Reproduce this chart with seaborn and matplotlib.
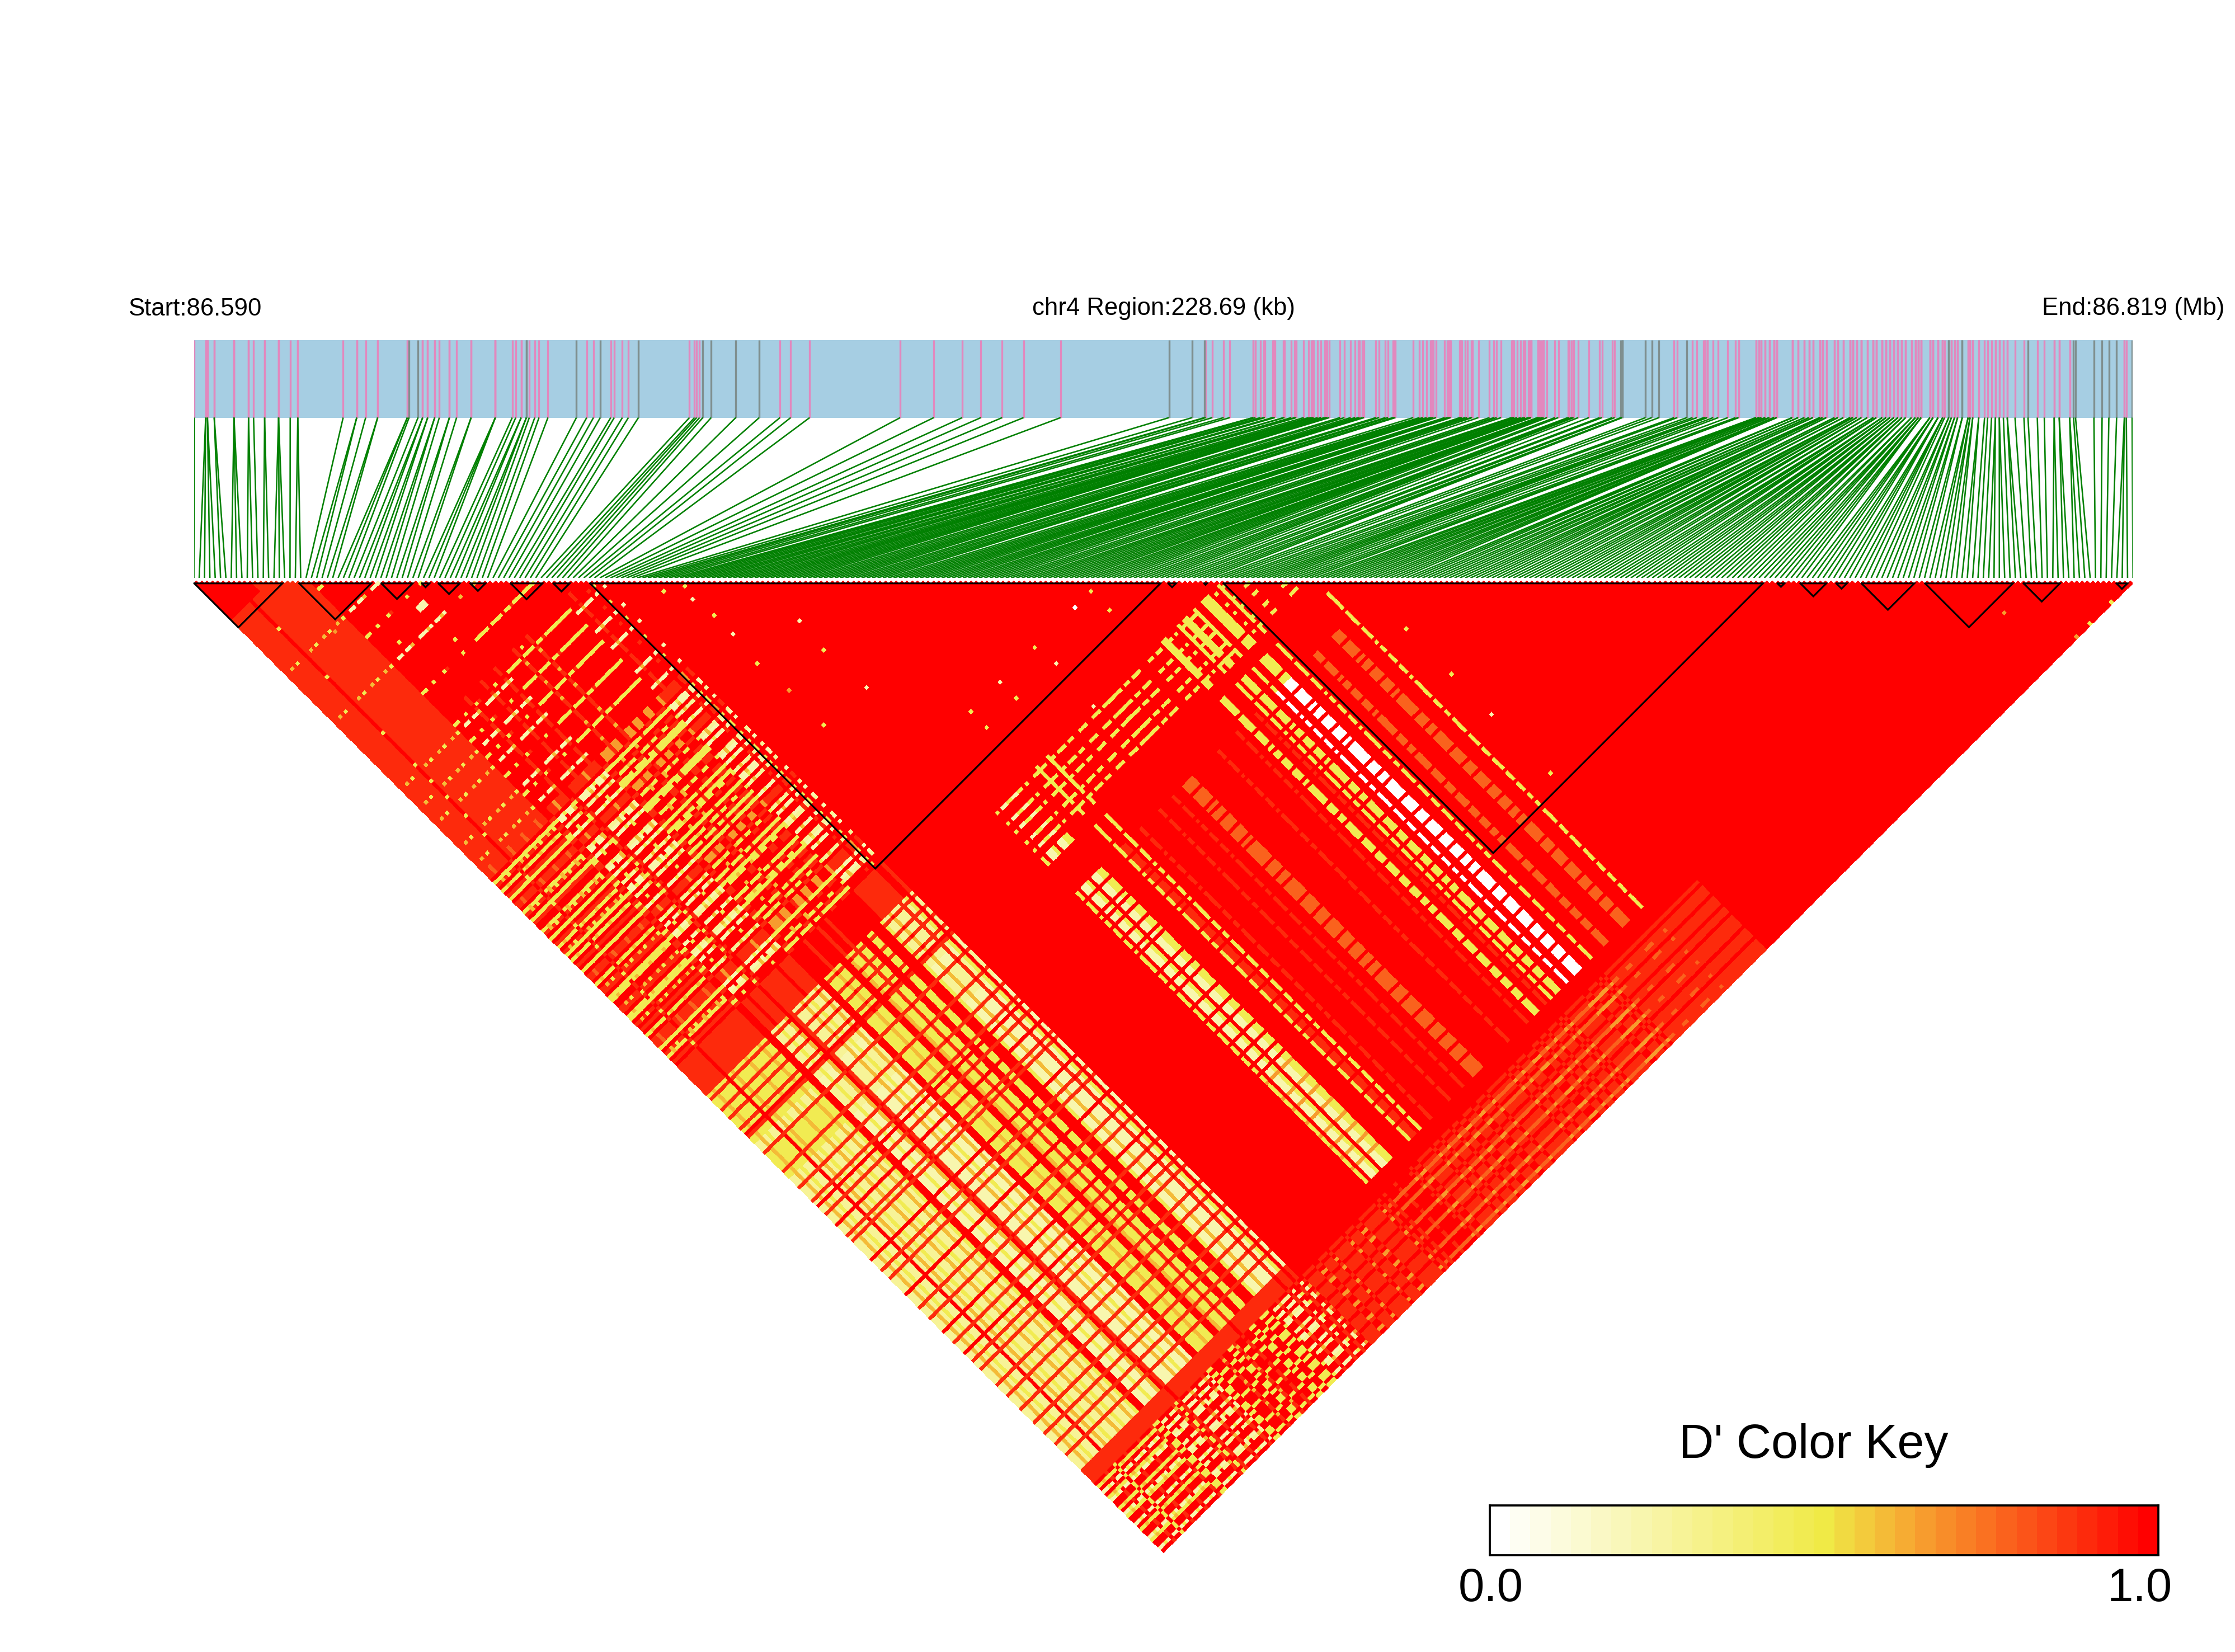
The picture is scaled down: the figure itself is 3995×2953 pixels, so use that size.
import numpy as np
import matplotlib
matplotlib.use("Agg")
import matplotlib.pyplot as plt
from matplotlib.colors import LinearSegmentedColormap
from matplotlib.transforms import Affine2D
import seaborn as sns

sns.set_theme(style="white")
plt.rcParams["font.family"] = ["Liberation Sans", "DejaVu Sans"]

# SNP positions along the region, per mille of 228.69 kb (repeats = SNPs too close to separate)
snp_left = [0.2, 6.1, 6.1, 7, 7, 10.5, 10.5, 20.7, 20.7, 20.7, 28.2, 28.2, 30.8, 36.5, 36.5, 43.7, 43.7, 43.7,
            49.7, 53.6, 53.6, 77, 84, 84, 88.6, 94.8, 94.8, 110.1, 110.1, 111, 115.6, 118, 118, 120.6, 120.6,
            124.2, 124.2, 126.6, 131.8, 131.8, 135.5, 143, 143, 155.5, 155.5, 155.5, 164.2, 166, 168.8, 168.8,
            171.5, 171.5, 173, 175.8, 178, 182.6, 197.3, 202.6, 206.1, 209.6, 215, 216.8, 221, 224.1, 229.3]
snp_mid = [255.6, 258.2, 259.3, 260.8, 262.5, 266.8, 279.5, 291.6, 302.3, 307.8, 317.6, 364.3, 381.6, 396.3,
           405.9, 416.9, 427.9, 447.0, 502.9]
snp_core1 = [514.9, 521.2, 521.9, 525.3, 531.1, 534.3, 546.2, 546.4, 547.5, 550.1, 551.9, 552.4, 556.3, 556.9,
             557.5, 562, 562.5, 566, 567.8, 568.6, 572.4, 574.9, 576.2, 576.9, 577.5, 579.6, 581.3, 583.1,
             583.9, 584.5, 585.6, 591.1, 593.4, 596.6, 598.9, 600.6, 601.2, 602.7, 603.5, 609.6, 611.3, 614.5,
             615.9, 618.4, 619, 619.7, 628.9, 632.1, 633.8, 635.8, 637.7, 638.2, 638.8, 639.3, 640.7, 645.1,
             646.5, 647.1, 647.7, 648.2]
snp_core2 = [652.9, 653.4, 653.9, 655.6, 656.7, 658.7, 659.3, 662.5, 668.2, 670.5, 671.9, 674.2, 679.5, 680.2,
             680.9, 682.4, 684.3, 685.8, 686.5, 688.2, 688.9, 689.7, 689.7, 693.1, 693.1, 693.8, 694.4, 695.2,
             696.1, 696.1, 697.9, 701.9, 703.7, 708.6, 709.3, 710.6, 711.5, 711.5, 714, 719.5, 725, 726.2,
             731.5, 732.8, 736, 736.6, 736.6, 748.7, 751.9, 755.6, 763.4, 765.1, 770, 772.9, 775.2, 778.7, 779.5,
             779.5, 780.5, 780.5, 783.6, 786.2, 791.1, 795.1, 796.6, 796.6]
snp_core3 = [805.6, 807.2, 808.4, 810.4, 812.5, 814.9, 816.3, 824.4, 827.4, 830.6, 833, 835, 838.5, 839.9, 841.9,
             846.1, 847.9, 850.7, 854.2, 855.6, 857.6, 860, 863, 866.1, 867.7, 870.7, 872.7, 874.7, 876.7, 878.8,
             880.8, 882.8, 885.8, 887.8, 889.4, 890.8]
snp_core3_count = [2, 2, 2, 2, 3, 3, 3, 3, 2, 2, 2, 2, 3, 3, 2, 2, 2, 2, 3, 3, 2, 3, 2, 3, 3, 3, 3, 3, 3, 3,
                   3, 2, 2, 3, 3, 3]
snp_right = [895.3, 895.3, 895.3, 896.9, 896.9, 896.9, 899.5, 899.5, 899.5, 901.9, 901.9, 901.9, 902.9, 905, 905,
             906.4, 906.4, 908, 908, 909.6, 909.6, 912, 912, 915, 915, 916, 916, 917.4, 917.4, 920.5, 920.5,
             923.5, 925.1, 927.1, 929.1, 929.1, 931.1, 931.1, 933.2, 935.2, 935.2, 939.2, 943.8, 945.9, 950.7,
             954.3, 959.4, 959.4, 962, 962, 967.4, 967.4, 969.4, 970.4, 979.9, 984.1, 987.6, 991.6, 995.6, 995.6,
             996.6, 999.6]
snp_gray = [111, 115.6, 171.5, 197.3, 209.6, 229.3, 262.5, 266.8, 279.5, 291.6, 502.9, 514.9, 521.2, 736, 736.6,
            748.7, 751.9, 755.6, 770, 905, 912, 945.9, 969.4, 970.4, 979.9, 984.1, 987.6, 991.6, 999.6]

# LD blocks (first and last SNP as fraction of the SNP list)
block_start = [0.0002, .0543, .0967, .1175, .1261, .1426, .1634, .1854, .2043, .5025, .521, .531, .8167, .8285,
               .847, .860, .8928, .9436, .9915]
block_end = [.0457, .0915, .1128, .1215, .1371, .1504, .1798, .1938, .4985, .5065, .5225, .8092, .8203, .8419,
             .8525, .8873, .9381, .9624, .9972]

# D' levels by digit
level_values = {"0": 0.0, "1": .22, "2": .30, "3": .46, "4": .58, "5": .66, "6": .76, "7": .88, "8": .94, "9": 1.0}

# D' pattern: row group of the left SNP against column group of the right SNP
col_groups = "kmnpqcgbhroefxyzstda"
pattern = {
    "Z": "7739377239727931" + "7772",
    "J": "7749377449747943" + "7464",
    "K": "7739377339737739" + "7373",
    "A": "9929177129717921" + "9171",
    "Y": "9939379339737993" + "3953",
    "G": "9749397449747749" + "9474",
    "R": "9997399999797399" + "3999",
    "T": "9979777779979797" + "7997",
    "I": "9999999999999797" + "9999",
    "M": "9999939999999796" + "9999",
    "Q": "9999999999999975" + "9999",
    "P": "9999939799979796" + "9999",
    "U": "9999939699969796" + "9999",
    "N": "9999939399935996" + "9993",
    "V": "9999919199915996" + "9991",
    "H": "9999939339939796" + "9999",
    "W": "9999939039909795" + "9999",
    "C": "9999999999999797" + "9999",
    "B": "9999999999999999" + "9999",
}

# Row groups of SNPs, stretch by stretch, in order
rows_first = ("ZZJZKZZRZJ" "ZKZZJZKZZJ" "ZKRRAAYAAG" "RTAAAGAYAA" "GARRYYYGYY"
              "RRYGYYTYYR" "RYYRRRYAAG" "AAAT")
rows_second = "IIQIIIQIIQIIIQIIQIIIIQII"
rows_third = "MQMMQQMQMMMQQMQMMQMQQMMQMMQQMQMMQMQMMQQMMQMQMMQQMQMMMQMQQMQM"
row_stripes = [(.200, "A"), (.205, "Y"), (.210, "A"), (.296, "N"), (.299, "V"), (.302, "V"), (.305, "N"),
               (.308, "M"), (.311, "V"), (.314, "V"), (.317, "N"), (.320, "N"), (.339, "H"), (.342, "P"),
               (.345, "P"), (.350, "H"), (.360, "P"), (.380, "P"), (.395, "P"), (.405, "U"), (.408, "U"),
               (.411, "U"), (.414, "U"), (.440, "P"), (.460, "P"), (.469, "H"), (.472, "H"), (.478, "P"),
               (.486, "H"), (.489, "H"), (.493, "H"), (.500, "W"), (.510, "W"), (.513, "W"),
               (.516, "W"), (.526, "H"), (.541, "U"), (.544, "U"),
               (.560, "U"), (.563, "U"), (.566, "U"), (.578, "H")]
# Column groups for the stretches with mixed SNPs
cols_first = "kkkkkkskkkkkkkkktkkkkkkskkkkkkkkktkkkkkkkkkskkkkkkkk"
cols_second = "mmsmtmmsmmtmsmmtmmsmmmtmsmmtmm"
cols_third = "pnspqtpnpsqpddpntpqsppntpqpsnptqpnpspqpddpnptspqnpptspnqptpspnpdddqptnpsp"
cols_last = "xxyzxyxzxyzxxyxzyxxzxyxxzyxxzx"
col_stripes = [(.535, "c"), (.545, "c"), (.555, "c"), (.565, "c"), (.572, "c"),
               (.580, "a"), (.583, "a"), (.586, "a"), (.589, "a"),
               (.300, "d"), (.303, "d"), (.306, "d"), (.57, "r"), (.59, "o"), (.61, "o"), (.625, "o"), (.638, "o"),
               (.645, "r"), (.652, "o"), (.665, "r"), (.675, "o"), (.68, "o"), (.70, "r"), (.71, "o"), (.72, "o"),
               (.736, "r"), (.75, "o"), (.76, "o"), (.775, "r"), (.784, "o"), (.796, "r"), (.805, "o"),
               (.814, "f"), (.83, "f"), (.84, "f"), (.855, "f"), (.869, "f"), (.88, "f"), (.89, "f"), (.90, "f"),
               (.917, "o"), (.92, "o"), (.923, "o"), (.926, "o"), (.929, "o")]

# Rectangles of left/right SNP fractions that read as one level
patch_i0 = [0.0]
patch_i1 = [.03]
patch_j0 = [0.0]
patch_j1 = [.04]
patch_level = "9"

# Isolated pairs that differ: left SNP, right SNP (fractions), digit
speck_i = [.2366, .25, .249, .25, .25, .293, .288, .249, .293, .25, .25, .4564, .4565, .4394, .4013, .365, .3344,
           .3344, .4, .3647, .4, .601, .601, .601, .601, .9787, .957, .941, .917, .048, .074, .104, .135,
           .1053, .1053, .1025, .1025, .1078, .1078]
speck_j = [.2493, .2574, .268, .287, .305, .334, .361, .334, .401, .399, .364, .4686, .4882, .4694, .4879, .469,
           .4694, .4856, .528, .4859, .4689, .651, .697, .737, .799, .9989, .9994, .9989, .951, .098, .1385,
           .1656, .205, .1336, .1306, .1336, .1306, .1336, .1306]
speck_level = "331311331353301133133331333555333111111"

# Colour key
key_positions = [0.0, .5, .68, 1.0]
key_colors = ["#FFFFFF", "#F0EA46", "#F8902A", "#FF0000"]
key_steps = 33

snp_pos = np.concatenate([snp_left, snp_mid, snp_core1, snp_core2, np.repeat(snp_core3, snp_core3_count), snp_right])
N = len(snp_pos)
frac = np.arange(N) / (N - 1)


def pick(text, f, start, stop):
    return text[min(int((f - start) / (stop - start) * len(text)), len(text) - 1)]


row_group = []
for f in frac:
    if f < .2:
        row_group.append(pick(rows_first, f, 0, .2))
    elif f < .3:
        row_group.append(pick(rows_second, f, .2, .3))
    elif f < .53:
        row_group.append(pick(rows_third, f, .3, .53))
    elif f < .62:
        row_group.append("C")
    else:
        row_group.append("B")
for f, c in row_stripes:
    row_group[int(round(f * (N - 1)))] = c

col_group = []
for f in frac:
    if f < .05:
        col_group.append("k")
    elif f < .2:
        col_group.append(pick(cols_first, f, .05, .2))
    elif f < .3:
        col_group.append(pick(cols_second, f, .2, .3))
    elif f < .5:
        col_group.append(pick(cols_third, f, .3, .5))
    elif f < .53:
        col_group.append("g")
    elif f < .615:
        col_group.append("h")
    elif f < .81:
        col_group.append("b")
    elif f < .92:
        col_group.append("e")
    else:
        col_group.append(pick(cols_last, f, .92, 1))
for f, c in col_stripes:
    col_group[int(round(f * (N - 1)))] = c

ld = np.full((N, N), np.nan)
for i in range(N):
    row_pattern = pattern[row_group[i]]
    for j in range(i + 1, N):
        ld[i, j] = level_values[row_pattern[col_groups.index(col_group[j])]]
for a0, a1, b0, b1, d in zip(patch_i0, patch_i1, patch_j0, patch_j1, patch_level):
    sel_i = (frac >= a0) & (frac <= a1)
    sel_j = (frac >= b0) & (frac <= b1)
    block = ld[np.ix_(sel_i, sel_j)]
    block[~np.isnan(block)] = level_values[d]
    ld[np.ix_(sel_i, sel_j)] = block
for a, b, d in zip(speck_i, speck_j, speck_level):
    ld[int(round(a * (N - 1))), int(round(b * (N - 1)))] = level_values[d]

cmap = LinearSegmentedColormap.from_list("dkey", list(zip(key_positions, key_colors)), N=key_steps)

W, H = 3995, 2953
fig = plt.figure(figsize=(W / 300, H / 300), dpi=300, facecolor="white")
LEFT, WIDTH, TOP = 346.5, 3466.0, 1038.0

ax = fig.add_axes([0, 0, 1, 1])
sns.heatmap(ld, mask=np.isnan(ld), cmap=cmap, vmin=0, vmax=1, cbar=False,
            xticklabels=False, yticklabels=False, ax=ax)
mesh = ax.collections[0]
mesh.set_antialiased(False)
mesh.set_transform(Affine2D(np.array([[.5, .5, 0], [.5, -.5, 0], [0, 0, 1.0]])) + ax.transData)
units = (N - 1) / WIDTH
ax.set_xlim(.5 - LEFT * units, .5 + (W - LEFT) * units)
ax.set_ylim((H - TOP) * units, -TOP * units)
ax.set_aspect("auto")
ax.axis("off")

for a, b in zip(block_start, block_end):
    i0, i1 = a * (N - 1) + .5, b * (N - 1) + .5
    ax.plot([i0, i1, (i0 + i1) / 2, i0], [.5, .5, .5 + (i1 - i0) / 2, .5],
            color="black", lw=.75, solid_joinstyle="miter", clip_on=False)

# Gene band and connectors, y runs from bottom of connectors (0) to top of band (1)
band_top, conn_bottom, band_bottom = 608.0, 1033.0, 746.5
bax = fig.add_axes([LEFT / W, 1 - conn_bottom / H, WIDTH / W, (conn_bottom - band_top) / H])
bax.set_xlim(0, 1000)
bax.set_ylim(0, 1)
bax.axis("off")
yb = (conn_bottom - band_bottom) / (conn_bottom - band_top)
bax.fill_between([0, 1000], yb, 1, color="#A6CEE3", lw=0)
is_gray = np.isin(snp_pos, snp_gray)
bax.vlines(snp_pos[~is_gray], yb, 1, color="#E288BE", lw=.8)
bax.vlines(snp_pos[is_gray], yb, 1, color="#7F8F8F", lw=.8)
for p, f in zip(snp_pos, frac):
    bax.plot([p, f * 1000], [yb, 0], color="#008000", lw=.62, solid_capstyle="butt")

fig.text(348 / W, 1 - 552 / H, "Start:86.590", ha="center", va="center", fontsize=10.5, color="black")
fig.text(2080 / W, 1 - 552 / H, "chr4 Region:228.69 (kb)", ha="center", va="center", fontsize=10.5, color="black")
fig.text(3813 / W, 1 - 552 / H, "End:86.819 (Mb)", ha="center", va="center", fontsize=10.5, color="black")

# Colour key
kax = fig.add_axes([2663 / W, 1 - 2780 / H, (3858 - 2663) / W, (2780 - 2691) / H])
sns.heatmap(np.linspace(0, 1, key_steps).reshape(1, -1), cmap=cmap, vmin=0, vmax=1, cbar=False,
            xticklabels=False, yticklabels=False, ax=kax)
for s in kax.spines.values():
    s.set_visible(True)
    s.set_color("black")
    s.set_linewidth(.9)
fig.text(3242 / W, 1 - 2584 / H, "D' Color Key", ha="center", va="center", fontsize=20.7, color="black")
fig.text(2665 / W, 1 - 2840 / H, "0.0", ha="center", va="center", fontsize=20, color="black")
fig.text(3825 / W, 1 - 2840 / H, "1.0", ha="center", va="center", fontsize=20, color="black")

fig.savefig("out.png", dpi=300, facecolor="white")
print(N)
